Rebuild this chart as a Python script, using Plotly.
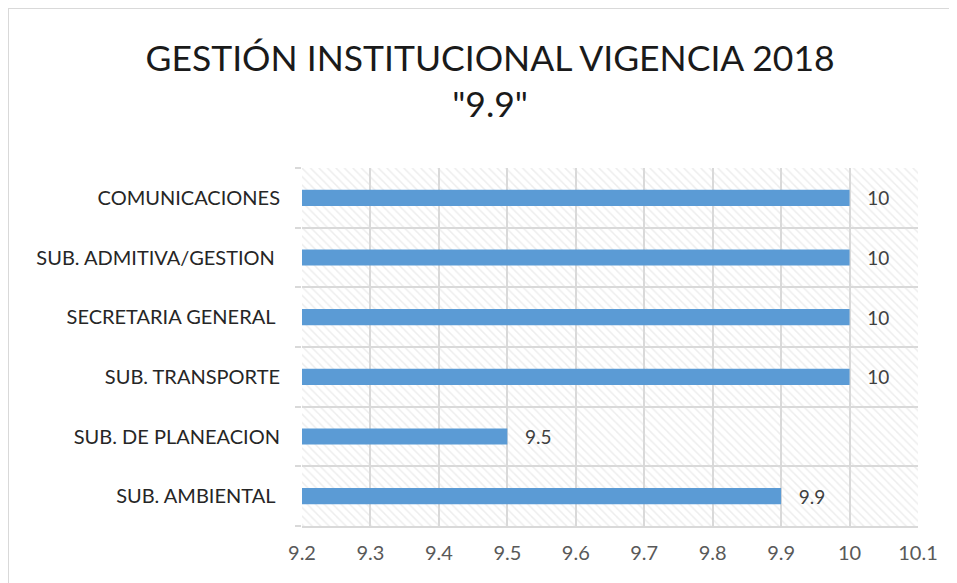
import plotly.graph_objects as go

# Data (bottom to top, as drawn)
categories = [
    "SUB. AMBIENTAL ",
    "SUB. DE PLANEACION",
    "SUB. TRANSPORTE",
    "SECRETARIA GENERAL ",
    "SUB. ADMITIVA/GESTION ",
    "COMUNICACIONES",
]
scores = [9.9, 9.5, 10, 10, 10, 10]
x_ticks = [9.2, 9.3, 9.4, 9.5, 9.6, 9.7, 9.8, 9.9, 10, 10.1]
x_tick_labels = ["9.2", "9.3", "9.4", "9.5", "9.6", "9.7", "9.8", "9.9", "10", "10.1"]

X_MIN, X_MAX = 9.2, 10.1
FONT = "Lato"

fig = go.Figure()

# hatched plot background, one band per category
fig.add_trace(go.Bar(
    y=categories,
    x=[X_MAX - X_MIN] * len(categories),
    base=X_MIN,
    orientation="h",
    width=1,
    marker=dict(
        color="rgba(0,0,0,0)",
        line=dict(width=0),
        pattern=dict(shape="\\", fgcolor="#dcdcdc", size=6, solidity=0.25, fillmode="overlay"),
    ),
    hoverinfo="skip",
    showlegend=False,
))

# the scores
fig.add_trace(go.Bar(
    y=categories,
    x=scores,
    orientation="h",
    width=0.27,
    marker=dict(color="#5B9BD5", line=dict(width=0)),
    text=[f"{v:g}" for v in scores],
    texttemplate="   %{text}",
    textposition="outside",
    constraintext="none",
    textfont=dict(family=FONT, size=19, color="#404040"),
    cliponaxis=False,
    showlegend=False,
))

fig.update_layout(
    width=949,
    height=575,
    barmode="overlay",
    paper_bgcolor="white",
    plot_bgcolor="white",
    margin=dict(l=294, r=39, t=160, b=57),
    title=dict(
        text="GESTIÓN INSTITUCIONAL VIGENCIA 2018<br>\"9.9\"",
        x=0.508, xanchor="center", y=0.89, yanchor="top",
        font=dict(family=FONT, size=35.5, color="#1a1a1a"),
    ),
    xaxis=dict(
        range=[X_MIN, X_MAX],
        tickvals=x_ticks,
        ticktext=x_tick_labels,
        showgrid=True,
        gridcolor="#d9d9d9",
        gridwidth=2,
        zeroline=False,
        showline=True,
        linecolor="#d9d9d9",
        linewidth=2,
        ticks="",
        ticklabelstandoff=8,
        tickfont=dict(family=FONT, size=20, color="#595959"),
    ),
    yaxis=dict(
        type="category",
        tickson="boundaries",
        showgrid=True,
        gridcolor="#d9d9d9",
        gridwidth=2,
        showline=False,
        ticks="outside",
        ticklen=6,
        tickcolor="#d9d9d9",
        tickwidth=2,
        ticklabelstandoff=21,
        tickfont=dict(family=FONT, size=20, color="#262626"),
    ),
    shapes=[dict(
        type="rect", xref="paper", yref="paper",
        x0=-294 / 616, x1=1.2, y0=-0.5, y1=1 + 160 / 358,
        line=dict(color="#d9d9d9", width=2), fillcolor="rgba(0,0,0,0)", layer="below",
    )],
)

fig.write_html("out.html")
